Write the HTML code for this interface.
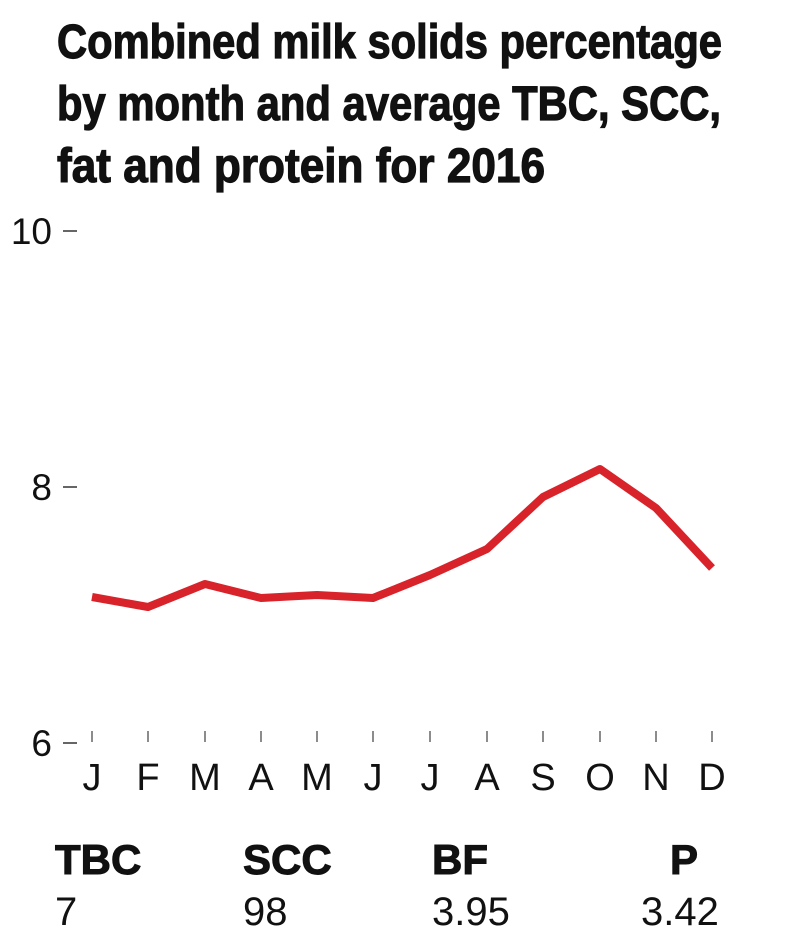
<!DOCTYPE html>
<html><head><meta charset="utf-8"><style>
html,body{margin:0;padding:0;background:#fff;}
</style></head><body>
<svg width="790" height="941" viewBox="0 0 790 941" xmlns="http://www.w3.org/2000/svg">
<g font-family="'Liberation Sans Narrow','Liberation Sans',sans-serif" font-weight="bold" font-size="48" fill="#111" stroke="#111" stroke-width="1.2">
<text x="57" y="58" textLength="665" lengthAdjust="spacingAndGlyphs">Combined milk solids percentage</text>
<text x="57" y="120" textLength="664" lengthAdjust="spacingAndGlyphs">by month and average TBC, SCC,</text>
<text x="57" y="182" textLength="488" lengthAdjust="spacingAndGlyphs">fat and protein for 2016</text>
</g>
<g font-family="'Liberation Sans',sans-serif" font-size="37" fill="#111">
<text x="52" y="244" text-anchor="end">10</text>
<text x="52" y="500" text-anchor="end">8</text>
<text x="52" y="756" text-anchor="end">6</text>
</g>
<g stroke="#333" stroke-width="1.5">
<line x1="63" y1="231" x2="77" y2="231"/>
<line x1="63" y1="487" x2="77" y2="487"/>
<line x1="63" y1="743" x2="77" y2="743"/>
</g>
<g stroke="#666" stroke-width="1.5">
<line x1="92" y1="731" x2="92" y2="742"/><line x1="148" y1="731" x2="148" y2="742"/>
<line x1="205" y1="731" x2="205" y2="742"/><line x1="261" y1="731" x2="261" y2="742"/>
<line x1="317" y1="731" x2="317" y2="742"/><line x1="373" y1="731" x2="373" y2="742"/>
<line x1="430" y1="731" x2="430" y2="742"/><line x1="487" y1="731" x2="487" y2="742"/>
<line x1="543" y1="731" x2="543" y2="742"/><line x1="600" y1="731" x2="600" y2="742"/>
<line x1="656" y1="731" x2="656" y2="742"/><line x1="712" y1="731" x2="712" y2="742"/>
</g>
<g font-family="'Liberation Sans',sans-serif" font-size="38" fill="#111" text-anchor="middle">
<text x="92" y="790">J</text><text x="148" y="790">F</text><text x="205" y="790">M</text>
<text x="261" y="790">A</text><text x="317" y="790">M</text><text x="373" y="790">J</text>
<text x="430" y="790">J</text><text x="487" y="790">A</text><text x="543" y="790">S</text>
<text x="600" y="790">O</text><text x="656" y="790">N</text><text x="712" y="790">D</text>
</g>
<polyline fill="none" stroke="#d8232a" stroke-width="8" stroke-linejoin="round" points="92,597 148,607 205,584 261,598 317,595 373,598 430,575 487,549 543,497 600,469 656,508 712,568"/>
<g font-family="'Liberation Sans',sans-serif" font-weight="bold" font-size="42" fill="#111" stroke="#111" stroke-width="1">
<text x="55" y="874">TBC</text><text x="243" y="874">SCC</text>
<text x="432" y="874">BF</text><text x="670" y="874">P</text>
</g>
<g font-family="'Liberation Sans',sans-serif" font-size="40" fill="#111">
<text x="55" y="925">7</text><text x="243" y="925">98</text>
<text x="432" y="925">3.95</text><text x="641" y="925">3.42</text>
</g>
</svg>
</body></html>
